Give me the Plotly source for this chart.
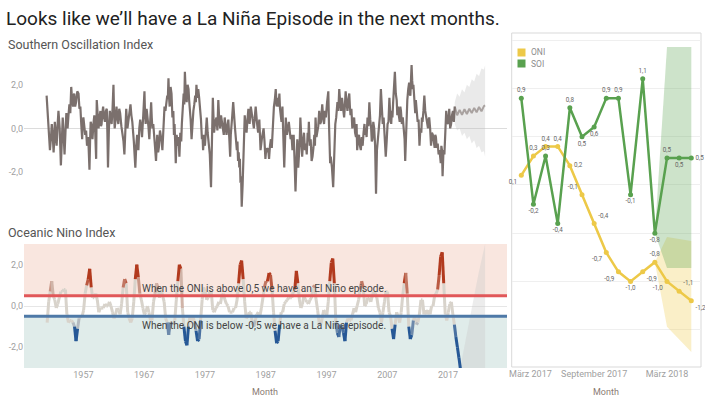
import numpy as np
import plotly.graph_objects as go

W, H = 705, 399
FONT = "Roboto"

TITLE = "Looks like we’ll have a La Niña Episode in the next months."

# ---------------- Southern Oscillation Index: (year, value) readings from the picture ----------------
soi_readings = [
    (1950.95, 1.5), (1951.22, 0.4), (1951.5, -1.0), (1951.65, -0.5), (1951.8, 0.2), (1951.95, -0.3),
    (1952.1, -1.1), (1952.2, -0.6), (1952.3, 0.3), (1952.45, -0.2), (1952.6, -0.8), (1952.75, 0.1),
    (1952.9, 0.8), (1953.1, 0.0), (1953.3, -1.7), (1953.45, -0.6), (1953.6, 0.5), (1953.75, -0.3),
    (1953.9, -1.2), (1954.05, -0.2), (1954.2, 0.7), (1954.3, 0.2), (1954.4, 0.0), (1954.55, 0.6),
    (1954.7, 1.1), (1954.85, 0.7), (1955.0, 1.9), (1955.15, 1.3), (1955.3, 1.0), (1955.4, 1.5),
    (1955.5, 1.6), (1955.65, 1.0), (1955.8, 1.2), (1956.0, 1.7), (1956.2, 1.6), (1956.35, 0.9),
    (1956.5, 1.0), (1956.65, 0.2), (1956.8, -0.5), (1956.9, 0.3), (1957.0, 0.5), (1957.15, 0.1),
    (1957.3, -0.3), (1957.45, -0.1), (1957.6, -0.8), (1957.8, -0.4), (1958.0, -1.9), (1958.1, -0.6),
    (1958.2, 0.3), (1958.35, 0.1), (1958.5, -0.5), (1958.65, 0.2), (1958.8, 0.6), (1958.95, -0.2),
    (1959.1, -1.4), (1959.2, 1.3), (1959.35, 0.5), (1959.5, 0.0), (1959.65, 0.5), (1959.8, 0.8),
    (1959.9, 0.1), (1960.0, 0.2), (1960.12, 0.7), (1960.25, 1.0), (1960.4, 0.5), (1960.55, 0.3),
    (1960.7, 0.8), (1960.85, 0.9), (1960.95, -0.2), (1961.05, -1.8), (1961.2, 0.0), (1961.35, 0.8),
    (1961.5, 0.5), (1961.65, 0.2), (1961.8, 0.9), (1961.95, 2.0), (1962.05, 0.7), (1962.15, 0.0),
    (1962.3, 0.4), (1962.45, 1.0), (1962.6, 0.5), (1962.75, 0.2), (1962.9, 0.9), (1963.05, 0.7),
    (1963.25, 0.1), (1963.45, -0.3), (1963.6, -0.6), (1963.75, -1.2), (1963.9, 0.1), (1964.05, 0.9),
    (1964.25, 0.0), (1964.45, 0.4), (1964.6, 0.8), (1964.75, 1.1), (1964.9, 0.6), (1965.05, 0.3),
    (1965.3, -0.6), (1965.55, -1.8), (1965.7, -0.8), (1965.85, -0.3), (1965.95, -0.6), (1966.05, -1.0),
    (1966.2, 0.0), (1966.35, 0.4), (1966.5, 0.1), (1966.65, -0.4), (1966.85, 0.6), (1967.05, 1.7),
    (1967.15, 0.6), (1967.25, 0.2), (1967.4, 0.9), (1967.55, 0.6), (1967.7, 0.1), (1967.85, -0.5),
    (1968.0, 0.4), (1968.15, 1.2), (1968.25, 0.5), (1968.35, 0.0), (1968.5, 0.2), (1968.65, -0.6),
    (1968.8, -0.9), (1968.95, -1.5), (1969.05, -0.7), (1969.15, -0.3), (1969.3, -1.1), (1969.45, -0.8),
    (1969.6, -0.1), (1969.75, -0.3), (1969.88, -0.6), (1970.0, -1.0), (1970.1, -0.2), (1970.2, 0.3),
    (1970.35, 1.0), (1970.5, 0.8), (1970.65, 1.2), (1970.8, 1.5), (1970.9, 1.4), (1971.0, 2.3),
    (1971.1, 1.4), (1971.2, 1.0), (1971.35, 1.9), (1971.5, 1.6), (1971.65, 0.5), (1971.8, 0.8),
    (1971.9, -0.3), (1972.0, 0.2), (1972.1, -0.6), (1972.2, -1.6), (1972.35, -0.3), (1972.5, -0.8),
    (1972.65, -0.4), (1972.8, -1.3), (1972.95, -0.2), (1973.1, -0.6), (1973.2, 0.2), (1973.3, 0.9),
    (1973.4, 1.2), (1973.5, 1.6), (1973.6, 1.1), (1973.7, 2.6), (1973.85, 1.6), (1974.0, 1.2),
    (1974.15, 2.0), (1974.3, 1.8), (1974.4, 1.3), (1974.5, 1.0), (1974.65, 0.4), (1974.8, -0.5),
    (1974.95, 0.3), (1975.1, 0.8), (1975.25, 1.1), (1975.4, 1.5), (1975.5, 1.2), (1975.6, 2.0),
    (1975.75, 1.4), (1975.9, 1.8), (1976.05, 1.4), (1976.2, 1.0), (1976.35, 0.4), (1976.5, -0.5),
    (1976.6, -0.3), (1976.7, -1.0), (1976.85, -0.3), (1977.0, -0.8), (1977.15, -0.2), (1977.3, 0.5),
    (1977.45, -0.2), (1977.6, -0.8), (1977.8, -1.2), (1978.0, -2.7), (1978.15, -0.5), (1978.3, 1.4),
    (1978.4, 0.6), (1978.5, -0.2), (1978.7, 0.3), (1978.9, 0.5), (1979.05, -0.1), (1979.2, 1.3),
    (1979.35, 0.4), (1979.5, 0.0), (1979.65, 0.6), (1979.8, 0.3), (1979.95, 0.1), (1980.1, -0.3),
    (1980.18, 0.1), (1980.25, 0.5), (1980.4, 0.1), (1980.55, -0.3), (1980.7, 0.1), (1980.85, 0.4),
    (1981.0, -0.4), (1981.15, -1.3), (1981.25, -0.3), (1981.35, 0.3), (1981.5, 0.6), (1981.65, 1.2),
    (1981.8, 0.4), (1981.95, 0.0), (1982.1, -0.5), (1982.25, -1.0), (1982.35, -0.6), (1982.45, -1.5),
    (1982.55, -1.1), (1982.65, -1.8), (1982.75, -1.4), (1982.85, -2.5), (1982.95, -2.2), (1983.05, -3.6),
    (1983.2, -2.6), (1983.35, -1.5), (1983.45, -0.5), (1983.55, 0.6), (1983.7, 0.1), (1983.85, -0.2),
    (1984.0, 0.4), (1984.15, 0.9), (1984.35, 0.2), (1984.55, 1.0), (1984.8, 0.5), (1985.05, 0.0),
    (1985.2, 0.5), (1985.35, 1.0), (1985.55, 0.3), (1985.75, -0.2), (1985.95, 0.4), (1986.15, -1.0),
    (1986.4, -0.4), (1986.65, 0.0), (1986.8, -0.6), (1986.95, -1.4), (1987.1, -0.9), (1987.25, -1.1),
    (1987.4, -0.9), (1987.55, -1.4), (1987.7, -0.8), (1987.85, -0.5), (1988.0, -0.9), (1988.15, 0.0),
    (1988.25, 0.6), (1988.35, 1.0), (1988.5, 1.3), (1988.65, 1.8), (1988.8, 1.0), (1988.95, 1.4),
    (1989.1, 1.0), (1989.25, 1.6), (1989.35, 0.9), (1989.45, 0.5), (1989.6, 0.3), (1989.75, 1.0),
    (1989.9, -0.2), (1990.05, -1.8), (1990.18, -0.6), (1990.3, 0.5), (1990.4, 0.0), (1990.5, -0.3),
    (1990.65, 0.0), (1990.8, 0.3), (1990.95, -0.1), (1991.1, -0.5), (1991.25, -0.3), (1991.4, -1.0),
    (1991.5, -0.6), (1991.6, -0.3), (1991.75, -1.5), (1991.9, -2.9), (1992.05, -1.6), (1992.2, -0.5),
    (1992.35, -1.8), (1992.5, -1.3), (1992.6, -0.6), (1992.7, 0.5), (1992.85, -0.4), (1993.0, -1.3),
    (1993.15, -0.6), (1993.3, -0.2), (1993.45, -1.0), (1993.6, -0.7), (1993.75, -1.2), (1993.9, -0.2),
    (1994.0, -0.6), (1994.1, 0.3), (1994.25, -0.8), (1994.4, -0.5), (1994.55, -1.5), (1994.7, -1.3),
    (1994.85, -0.9), (1995.0, -0.3), (1995.1, -0.8), (1995.2, 0.5), (1995.35, -0.4), (1995.5, -0.2),
    (1995.65, 0.1), (1995.8, 0.8), (1995.95, 0.2), (1996.1, 0.3), (1996.2, 0.6), (1996.3, 1.1),
    (1996.45, 0.5), (1996.6, 0.2), (1996.75, 0.8), (1996.9, 0.5), (1997.1, 1.2), (1997.3, 1.7),
    (1997.4, 0.3), (1997.5, -0.5), (1997.6, -1.6), (1997.7, -1.3), (1997.9, -1.8), (1998.1, -2.7),
    (1998.2, -1.5), (1998.3, -0.5), (1998.45, 0.2), (1998.6, 0.5), (1998.7, 0.9), (1998.8, 1.2),
    (1998.95, 0.8), (1999.1, 1.8), (1999.25, 1.2), (1999.4, 0.8), (1999.55, 1.4), (1999.7, 1.0),
    (1999.8, 0.6), (1999.9, 0.5), (2000.02, 1.0), (2000.15, 1.7), (2000.3, 1.2), (2000.45, 0.8),
    (2000.6, 1.3), (2000.75, 1.6), (2000.85, 1.0), (2000.95, 0.6), (2001.1, 0.9), (2001.25, 0.0),
    (2001.4, 0.3), (2001.55, 0.5), (2001.7, -0.2), (2001.85, -0.4), (2001.95, 0.2), (2002.05, -1.0),
    (2002.2, -0.4), (2002.35, -0.3), (2002.5, -0.8), (2002.65, -1.0), (2002.8, -0.4), (2002.95, -0.8),
    (2003.1, -0.2), (2003.25, 0.2), (2003.35, -0.3), (2003.45, 0.0), (2003.6, -0.4), (2003.75, 0.5),
    (2003.9, 0.1), (2004.05, 1.2), (2004.2, 0.4), (2004.35, 0.0), (2004.45, -0.6), (2004.55, -0.5),
    (2004.7, 0.3), (2004.85, 0.0), (2005.0, -0.8), (2005.15, -3.0), (2005.3, -1.0), (2005.45, -0.5),
    (2005.55, 0.0), (2005.65, 0.3), (2005.8, 0.6), (2005.95, 1.8), (2006.1, 0.6), (2006.25, 0.2),
    (2006.4, 0.5), (2006.55, -0.5), (2006.65, -0.8), (2006.75, -1.3), (2006.9, -0.6), (2007.05, 0.2),
    (2007.2, 0.3), (2007.35, 1.4), (2007.5, 0.6), (2007.65, 0.2), (2007.75, 0.8), (2007.85, 0.5),
    (2007.95, 1.1), (2008.05, 1.5), (2008.15, 1.9), (2008.25, 2.6), (2008.4, 1.6), (2008.55, 1.3),
    (2008.65, 0.6), (2008.75, 1.0), (2008.9, 0.6), (2009.05, 0.3), (2009.15, 1.0), (2009.25, 0.8),
    (2009.4, 0.2), (2009.55, 0.5), (2009.7, 0.0), (2009.85, -0.5), (2009.95, -1.5), (2010.1, 0.0),
    (2010.2, 0.8), (2010.3, 1.3), (2010.45, 1.8), (2010.6, 2.1), (2010.7, 1.6), (2010.8, 1.5),
    (2010.9, 2.2), (2011.0, 2.9), (2011.1, 2.2), (2011.2, 1.8), (2011.3, 2.0), (2011.45, 1.3),
    (2011.6, 0.7), (2011.7, 1.3), (2011.8, 1.0), (2011.9, 0.6), (2012.0, 0.3), (2012.15, 0.4),
    (2012.3, -0.8), (2012.45, 0.0), (2012.6, -0.2), (2012.7, 0.5), (2012.8, 0.3), (2012.95, 0.8),
    (2013.1, 1.5), (2013.25, 0.8), (2013.4, 0.5), (2013.55, 0.2), (2013.7, 0.0), (2013.8, 0.4),
    (2013.9, 0.5), (2014.05, 0.0), (2014.2, -0.8), (2014.35, -0.2), (2014.5, -0.3), (2014.65, -0.6),
    (2014.8, -0.9), (2014.9, -0.3), (2015.0, -0.4), (2015.15, -0.9), (2015.3, -0.7), (2015.45, -1.2),
    (2015.6, -1.0), (2015.7, -1.3), (2015.8, -1.6), (2015.9, -0.8), (2016.0, -1.0), (2016.1, -2.2),
    (2016.25, -1.0), (2016.4, -1.2), (2016.55, 0.2), (2016.7, 0.8), (2016.85, 0.3), (2017.0, 0.2),
    (2017.1, 0.5), (2017.2, 0.9), (2017.35, 0.0), (2017.5, 0.2), (2017.65, 0.6), (2017.8, 0.8),
    (2017.95, 0.3), (2018.1, 1.0),
]
soi_years = [r[0] for r in soi_readings]
soi_values = [r[1] for r in soi_readings]

soi_fc_years = [2018.1, 2018.5, 2018.9, 2019.3, 2019.7, 2020.1, 2020.5, 2020.9, 2021.3, 2021.7, 2022.1, 2022.5, 2022.9, 2023.1]
soi_fc_values = [1.0, 0.6, 0.85, 0.62, 0.88, 0.66, 0.9, 0.7, 0.94, 0.74, 0.98, 0.78, 1.02, 1.05]
soi_fc_upper = [1.2, 1.6, 1.45, 1.8, 1.65, 2.0, 1.9, 2.25, 2.15, 2.5, 2.4, 2.75, 2.7, 2.9]
soi_fc_lower = [0.2, -0.1, 0.0, -0.35, -0.2, -0.5, -0.35, -0.7, -0.55, -0.9, -0.8, -1.1, -1.05, -1.3]

# ---------------- Oceanic Nino Index (seasonal readings, DJF/MAM/JJA/SON) ----------------
oni_start = 1951.04
oni_values = [
    -0.8, 0.2, 0.7, 1.2,   0.5, 0.3, -0.1, 0.1,   0.4, 0.7, 0.7, 0.8,   0.8, -0.4, -0.8, -0.7,
    -0.7, -0.8, -1.0, -1.7,  -1.1, -0.6, -0.5, -0.5,  -0.2, 0.6, 1.0, 1.3,  1.8, 0.9, 0.4, 0.4,
    0.6, 0.3, -0.3, -0.1,  -0.1, -0.1, 0.1, 0.0,  0.0, 0.2, 0.0, -0.3,  -0.6, -0.4, -0.1, -0.2,
    -0.4, 0.1, 0.9, 1.3,   1.1, -0.3, -0.6, -0.8,  -0.6, 0.2, 1.3, 2.0,  1.4, 0.6, 0.3, -0.1,
    -0.4, -0.3, 0.0, -0.3,  -0.7, -0.7, 0.2, 0.6,  1.1, 0.8, 0.4, 0.8,  0.5, 0.2, -0.6, -0.8,
    -1.4, -0.8, -0.8, -0.9,  -0.7, 0.3, 1.2, 2.0,  1.8, -0.1, -1.0, -1.7,  -1.9, -1.0, -0.5, -0.7,
    -0.5, -0.8, -1.2, -1.7,  -1.6, -0.7, 0.3, 0.9,  0.7, 0.3, 0.4, 0.7,  0.7, -0.2, -0.3, -0.1,
    0.0, 0.2, 0.1, 0.5,   0.6, 0.3, 0.1, 0.0,  -0.3, -0.3, -0.3, -0.1,  -0.1, 0.3, 1.1, 2.0,
    2.2, 1.3, 0.2, -0.6,  -0.5, -0.3, -0.3, -0.8,  -1.0, -0.7, -0.4, -0.3,  -0.5, -0.1, 0.4, 0.9,
    1.2, 1.2, 1.6, 1.5,   0.8, -0.3, -1.2, -1.8,  -1.7, -0.9, -0.3, -0.3,  0.1, 0.2, 0.3, 0.4,
    0.4, 0.4, 0.7, 0.8,   1.7, 1.1, 0.3, -0.1,  0.1, 0.5, 0.3, 0.2,   0.1, 0.3, 0.4, 0.9,
    1.0, 0.3, -0.2, -0.8,  -0.9, -0.6, -0.2, -0.3,  -0.5, 0.2, 1.2, 2.1,  2.3, 1.1, -0.8, -1.3,
    -1.5, -0.9, -1.0, -1.3,  -1.7, -0.8, -0.6, -0.7,  -0.7, -0.4, -0.1, -0.3,  0.0, 0.3, 0.8, 1.2,
    0.9, 0.0, 0.1, 0.4,   0.4, 0.2, 0.5, 0.7,   0.6, 0.4, -0.1, -0.3,  -0.8, -0.3, 0.2, 0.7,
    0.7, -0.3, -0.5, -1.1,  -1.6, -0.9, -0.3, -0.5,  -0.8, -0.3, 0.5, 1.1,  1.6, 0.6, -1.0, -1.6,
    -1.4, -0.7, -0.5, -0.9,  -0.8, -0.4, 0.3, 0.3,  -0.4, -0.2, -0.4, -0.2,  -0.4, 0.0, 0.0, 0.5,
    0.6, 0.8, 1.5, 2.4,   2.6, 1.1, -0.4, -0.7,  -0.3, 0.1, 0.2, -0.4,  -0.9, -1.5, -2.0, -2.5,
    -3.05]
oni_years = oni_start + 0.25 * np.arange(len(oni_values))

oni_fc_years = [2019.0, 2020.0, 2021.0, 2022.0, 2023.1, 2023.1]
oni_fc_upper = [-3.0, -1.45, 0.05, 1.55, 3.0, -3.0]

oni_ticks = [1957, 1967, 1977, 1987, 1997, 2007, 2017]

# ---------------- Right panel: recent months ----------------
months = ["2017-03", "2017-04", "2017-05", "2017-06", "2017-07", "2017-08", "2017-09", "2017-10",
          "2017-11", "2017-12", "2018-01", "2018-02", "2018-03", "2018-04", "2018-05"]
recent_oni = [0.1, 0.3, 0.4, 0.4, 0.2, -0.1, -0.4, -0.7, -0.9, -1.0, -0.9, -0.8, -1.0, -1.1, -1.2]
recent_oni_labels = ["0,1", "0,3", "0,4", "0,4", "0,2", "-0,1", "-0,4", "-0,7", "-0,9", "-1,0", "-0,9", "-0,8", "-1,0", "-1,1", "-1,2"]
recent_soi = [0.9, -0.2, 0.3, -0.4, 0.8, 0.5, 0.6, 0.9, 0.9, -0.1, 1.1, -0.5, 0.28, 0.28, 0.28]
recent_soi_labels = ["0,9", "-0,2", "0,3", "-0,4", "0,8", "0,5", "0,6", "0,9", "0,9", "-0,1", "1,1", "-0,8", "0,5", "0,5", "0,5"]
fc_months = ["2018-02", "2018-03", "2018-04", "2018-05"]
oni_band_upper = [-0.8, -0.54, -0.56, -0.58]
oni_band_lower = [-0.8, -1.47, -1.6, -1.73]
soi_band_upper = [-0.5, 1.43, 1.43, 1.43]
soi_band_lower = [-0.5, -0.86, -0.86, -0.86]
recent_tick_pos = [0.75, 6, 12]
recent_ticktext = ["März 2017", "September 2017", "März 2018"]

oni_pos = ["bottom left", "top center", "top center", "top center", "middle right", "top left",
           "top right", "bottom left", "bottom left", "bottom center", "bottom right", "top center",
           "bottom left", "top right", "bottom right"]
soi_pos = ["top center", "bottom center", "top center", "bottom center", "top center", "bottom center",
           "bottom center", "top center", "top center", "bottom center", "top center", "bottom center",
           "top center", "bottom center", "middle right"]

# ---------------- colours ----------------
SOI_LINE = "#7b706d"
TICK = "#a0a0a0"
RED_LINE = "#e15759"
BLUE_LINE = "#4e79a7"
YELLOW = "#edc948"
GREEN = "#59a14f"


def px_x(p):
    return p / W


def px_y(p):
    return 1 - p / H


fig = go.Figure()

# --- SOI panel ---
fig.add_trace(go.Scatter(
    x=soi_fc_years + soi_fc_years[::-1], y=soi_fc_upper + soi_fc_lower[::-1],
    fill="toself", fillcolor="rgba(190,190,190,0.32)", line=dict(width=0),
    mode="lines", xaxis="x", yaxis="y", hoverinfo="skip", showlegend=False))
fig.add_trace(go.Scatter(
    x=soi_fc_years, y=soi_fc_values, mode="lines",
    line=dict(color="#a9a2a0", width=2), xaxis="x", yaxis="y", showlegend=False))
fig.add_trace(go.Scatter(
    x=soi_years, y=soi_values, mode="lines",
    line=dict(color=SOI_LINE, width=2.2), xaxis="x", yaxis="y", showlegend=False))

# --- ONI panel ---
fig.add_trace(go.Scatter(
    x=oni_fc_years, y=oni_fc_upper, fill="toself", fillcolor="rgba(200,200,200,0.35)",
    line=dict(width=0), mode="lines", xaxis="x2", yaxis="y2", hoverinfo="skip", showlegend=False))

NEUTRAL = np.array([216, 211, 203])
WARM = np.array([178, 58, 30])
COLD = np.array([38, 88, 150])


def seg_color(v):
    t = float(np.clip((abs(v) - 0.75) / 0.55, 0, 1))
    t = round(t * 5) / 5
    target = WARM if v > 0 else COLD
    c = NEUTRAL + (target - NEUTRAL) * t
    return "rgb(%d,%d,%d)" % tuple(c.round())


segments = {}
for i in range(len(oni_values) - 1):
    m = (oni_values[i] + oni_values[i + 1]) / 2
    col = seg_color(m)
    xs, ys = segments.setdefault(col, ([], []))
    xs += [oni_years[i], oni_years[i + 1], None]
    ys += [oni_values[i], oni_values[i + 1], None]

for col, (xs, ys) in segments.items():
    fig.add_trace(go.Scatter(x=xs, y=ys, mode="lines", line=dict(color=col, width=3),
                             xaxis="x2", yaxis="y2", showlegend=False, hoverinfo="skip"))

# --- right panel ---
fig.add_trace(go.Scatter(
    x=fc_months + fc_months[::-1], y=oni_band_upper + oni_band_lower[::-1], fill="toself",
    fillcolor="rgba(237,201,72,0.3)", line=dict(width=0), mode="lines",
    xaxis="x3", yaxis="y3", showlegend=False, hoverinfo="skip"))
fig.add_trace(go.Scatter(
    x=fc_months + fc_months[::-1], y=soi_band_upper + soi_band_lower[::-1], fill="toself",
    fillcolor="rgba(89,161,79,0.3)", line=dict(width=0), mode="lines",
    xaxis="x3", yaxis="y3", showlegend=False, hoverinfo="skip"))
fig.add_trace(go.Scatter(
    x=months, y=recent_oni, mode="lines+markers+text", text=recent_oni_labels,
    textposition=oni_pos, textfont=dict(size=6.3, color="#666666", family=FONT),
    line=dict(color=YELLOW, width=2.5), marker=dict(size=5, color=YELLOW),
    xaxis="x3", yaxis="y3", showlegend=False, cliponaxis=False))
fig.add_trace(go.Scatter(
    x=months, y=recent_soi, mode="lines+markers+text", text=recent_soi_labels,
    textposition=soi_pos, textfont=dict(size=6.3, color="#666666", family=FONT),
    line=dict(color=GREEN, width=2.5), marker=dict(size=5, color=GREEN),
    xaxis="x3", yaxis="y3", showlegend=False, cliponaxis=False))

tickfont = dict(size=9, color=TICK, family=FONT)
LX0, LX1 = 24, 507
XR = [1947.23, 2026.7]

fig.update_layout(
    template="none",
    width=W, height=H, margin=dict(l=0, r=0, t=0, b=0, pad=0, autoexpand=False),
    paper_bgcolor="white", plot_bgcolor="rgba(0,0,0,0)",
    font=dict(family=FONT),
    xaxis=dict(domain=[px_x(LX0), px_x(LX1)], range=XR, showticklabels=False, showgrid=False,
               zeroline=False, showline=False, automargin=False, ticks=""),
    yaxis=dict(domain=[px_y(214), px_y(56)], range=[-3.93, 3.32], tickvals=[-2, 0, 2],
               ticktext=["-2,0", "0,0", "2,0"], tickfont=tickfont, showgrid=False, showline=False,
               zeroline=True, zerolinecolor="#dcdcdc", zerolinewidth=1, ticks="", automargin=False),
    xaxis2=dict(domain=[px_x(LX0), px_x(LX1)], range=XR, tickvals=oni_ticks,
                ticktext=[str(t) for t in oni_ticks], tickfont=tickfont, showgrid=False, showline=False,
                zeroline=False, ticks="", anchor="y2", automargin=False),
    yaxis2=dict(domain=[px_y(368), px_y(244)], range=[-3, 3], tickvals=[-2, 0, 2],
                ticktext=["-2,0", "0,0", "2,0"], tickfont=tickfont, showgrid=False, showline=False,
                zeroline=True, zerolinecolor="#e6e6e6", zerolinewidth=1, ticks="", anchor="x2",
                automargin=False),
    xaxis3=dict(domain=[px_x(511.7), px_x(701)], type="category", categoryorder="array",
                categoryarray=months, range=[-0.79, 14.8], tickmode="array",
                tickvals=recent_tick_pos, ticktext=recent_ticktext, tickfont=tickfont,
                showgrid=False, zeroline=False, showline=False, ticks="", anchor="y3",
                automargin=False),
    yaxis3=dict(domain=[px_y(367), px_y(33)], range=[-1.886, 1.575],
                tickvals=[-1.5, -1.0, -0.5, 0, 0.5, 1.0, 1.5], showticklabels=False, ticks="",
                showgrid=True, gridcolor="#efefef", zeroline=False, showline=False, anchor="x3",
                automargin=False),
    showlegend=False,
)

shapes = [
    dict(type="rect", xref="x2 domain", yref="y2", x0=0, x1=1, y0=0.5, y1=3,
         fillcolor="#f9e6df", line=dict(width=0), layer="below"),
    dict(type="rect", xref="x2 domain", yref="y2", x0=0, x1=1, y0=-3, y1=-0.5,
         fillcolor="#e0ecea", line=dict(width=0), layer="below"),
    dict(type="line", xref="x2 domain", yref="y2", x0=0, x1=1, y0=0.5, y1=0.5,
         line=dict(color=RED_LINE, width=3)),
    dict(type="line", xref="x2 domain", yref="y2", x0=0, x1=1, y0=-0.5, y1=-0.5,
         line=dict(color=BLUE_LINE, width=3)),
    # right panel frame
    dict(type="rect", xref="paper", yref="paper", x0=px_x(511.7), x1=px_x(701),
         y0=px_y(367), y1=px_y(33), line=dict(color="#d9d9d9", width=1), layer="below"),
    # legend swatches
    dict(type="rect", xref="paper", yref="paper", x0=px_x(517.5), x1=px_x(525.5),
         y0=px_y(56.5), y1=px_y(48.5), fillcolor=YELLOW, line=dict(width=0)),
    dict(type="rect", xref="paper", yref="paper", x0=px_x(517.5), x1=px_x(525.5),
         y0=px_y(67.5), y1=px_y(59.5), fillcolor=GREEN, line=dict(width=0)),
]

annotations = [
    dict(text=TITLE, x=px_x(4), y=px_y(18), xanchor="left", yanchor="middle",
         font=dict(size=19, color="#222222", family=FONT)),
    dict(text="Southern Oscillation Index", x=px_x(6), y=px_y(45), xanchor="left", yanchor="middle",
         font=dict(size=12.5, color="#555555", family=FONT)),
    dict(text="Oceanic Nino Index", x=px_x(6), y=px_y(232), xanchor="left", yanchor="middle",
         font=dict(size=12.5, color="#555555", family=FONT)),
    dict(text="When the ONI is above 0,5 we have an El Niño episode.", x=px_x(264), y=px_y(288.5),
         xanchor="center", yanchor="middle", font=dict(size=10.1, color="#444444", family=FONT)),
    dict(text="When the ONI is below -0,5 we have a La Niña episode.", x=px_x(264), y=px_y(325),
         xanchor="center", yanchor="middle", font=dict(size=10.1, color="#444444", family=FONT)),
    dict(text="Month", x=px_x(265), y=px_y(392), xanchor="center", yanchor="middle",
         font=dict(size=9, color="#8a7b74", family=FONT)),
    dict(text="Month", x=px_x(606), y=px_y(392), xanchor="center", yanchor="middle",
         font=dict(size=9, color="#8a7b74", family=FONT)),
    dict(text="ONI", x=px_x(529), y=px_y(52.5), xanchor="left", yanchor="middle",
         font=dict(size=8.5, color="#8c8c8c", family=FONT)),
    dict(text="SOI", x=px_x(529), y=px_y(63.5), xanchor="left", yanchor="middle",
         font=dict(size=8.5, color="#8c8c8c", family=FONT)),
]
for a in annotations:
    a.update(xref="paper", yref="paper", showarrow=False)

fig.update_layout(shapes=shapes, annotations=annotations)
fig.write_html("out.html", config={"responsive": False, "displayModeBar": False},
               post_script="document.body.style.margin='0px';document.body.style.overflow='hidden';")
